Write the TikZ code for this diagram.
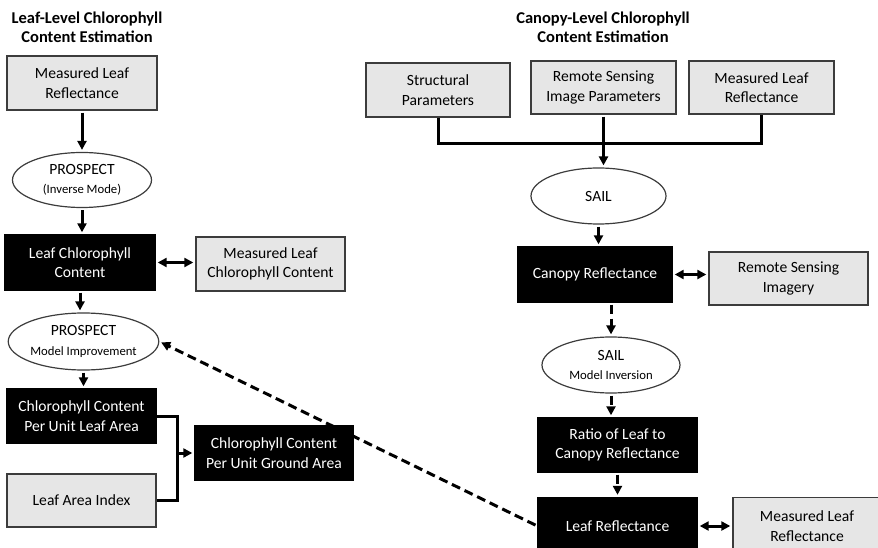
\documentclass[tikz,border=0pt]{standalone}
\usepackage{fontspec}
\setmainfont{Carlito}
\usepackage{tikz}
\definecolor{boxgray}{RGB}{230,230,230}
\definecolor{boxline}{RGB}{60,60,60}
\usetikzlibrary{shapes.geometric,arrows.meta,backgrounds}
\newcommand\subtext[1]{{\fontsize{12.7}{16}\selectfont #1}}

\begin{document}
\begin{tikzpicture}[x=1pt,y=-1pt,
        txt/.style={font=\fontsize{15.6}{19.5}\selectfont, align=center, inner sep=0pt},
        graybox/.style={txt, draw=boxline, fill=boxgray, line width=1.4pt, minimum height=54pt},
        blackbox/.style={txt, draw=black, fill=black, text=white, line width=1.4pt, minimum height=54pt},
        oval/.style={txt, ellipse, draw=boxline, fill=white, line width=1.2pt},
        title/.style={align=center, font=\fontsize{16.5}{19}\selectfont\bfseries},
        link/.style={line width=3pt, draw=black},
        arr/.style={link, -{Triangle[length=9pt,width=9pt]}, shorten >=2pt, shorten <=2pt},
        dbl/.style={link, {Triangle[length=9pt,width=9pt]}-{Triangle[length=9pt,width=9pt]}, shorten >=2pt, shorten <=2pt},
        dasharr/.style={arr, dash pattern=on 9pt off 5pt}]
        \useasboundingbox (0,0) rectangle (878,548);

        % leaf level
        \node[title] (titleL) at (87,27) {Leaf-Level Chlorophyll\\Content Estimation};
        \node[graybox, minimum width=150pt] (mlr) at (82,83) {Measured Leaf\\Reflectance};
        \node[oval, minimum width=139pt, minimum height=55pt] (pros1) at (82,180) {PROSPECT\\\subtext{(Inverse Mode)}};
        \node[blackbox, minimum width=150pt, minimum height=55pt] (lcc) at (80,262.5) {Leaf Chlorophyll\\Content};
        \node[graybox, minimum width=149pt] (mlcc) at (270.5,264) {Measured Leaf\\Chlorophyll Content};
        \node[oval, minimum width=139pt, minimum height=57pt] (pros2) at (83.5,341.5) {PROSPECT\\\subtext{Model Improvement}};
        \node[blackbox, minimum width=149pt] (ccla) at (81.5,416) {Chlorophyll Content\\Per Unit Leaf Area};
        \node[graybox, minimum width=149pt, minimum height=53pt] (lai) at (81.5,500.5) {Leaf Area Index};
        \node[blackbox, minimum width=158pt] (ccga) at (274,453) {Chlorophyll Content\\Per Unit Ground Area};

        % canopy level
        \node[title] (titleR) at (603,27) {Canopy-Level Chlorophyll\\Content Estimation};
        \node[graybox, minimum width=144pt] (struct) at (438,90) {Structural\\Parameters};
        \node[graybox, minimum width=145pt, minimum height=53pt] (rsip) at (603.5,87.5) {Remote Sensing\\Image Parameters};
        \node[graybox, minimum width=145pt, minimum height=53pt] (mlr2) at (761.5,87.5) {Measured Leaf\\Reflectance};
        \node[oval, minimum width=135pt, minimum height=56pt] (sail1) at (598.5,196) {SAIL};
        \node[blackbox, minimum width=154pt, minimum height=55pt] (canr) at (595,274.5) {Canopy Reflectance};
        \node[graybox, minimum width=159pt, minimum height=53pt] (rsi) at (788.5,278.5) {Remote Sensing\\Imagery};
        \node[oval, minimum width=138pt, minimum height=56pt] (sail2) at (611,365) {SAIL\\\subtext{Model Inversion}};
        \node[blackbox, minimum width=159pt] (ratio) at (617.5,445) {Ratio of Leaf to\\Canopy Reflectance};
        \node[blackbox, minimum width=159pt, minimum height=57pt] (lr) at (617.5,526) {Leaf Reflectance};
        \node[graybox, minimum width=148pt, minimum height=57pt] (mlr3) at (807,526) {Measured Leaf\\Reflectance};

        % leaf level links
        \draw[arr] (mlr.south) -- (mlr.south |- pros1.north);
        \draw[arr] (pros1.south) -- (pros1.south |- lcc.north);
        \draw[dbl] (lcc.east) -- (lcc.east -| mlcc.west);
        \draw[dasharr] (lcc.south) -- (lcc.south |- pros2.north);
        \draw[dasharr] (pros2.south) -- (pros2.south |- ccla.north);
        \draw[link] (ccla.east) -- ++(21,0) coordinate (fork) |- (lai.east);
        \draw[arr, shorten <=0pt] (fork |- ccga.west) -- (ccga.west);

        % canopy level links
        \draw[link] (struct.south) -- ++(0,26) -| (mlr2.south);
        \draw[arr] (rsip.south) -- (rsip.south |- sail1.north);
        \draw[arr] (sail1.south) -- (sail1.south |- canr.north);
        \draw[dbl] (canr.east) -- (canr.east -| rsi.west);
        \draw[dasharr] (canr.south -| sail2.north) -- (sail2.north);
        \draw[dasharr] (sail2.south) -- (sail2.south |- ratio.north);
        \draw[dasharr] (ratio.south) -- (ratio.south |- lr.north);
        \draw[dbl] (lr.east) -- (lr.east -| mlr3.west);

        \begin{scope}[on background layer]
            \draw[dasharr] (lr.west) -- (pros2.east);
        \end{scope}
    \end{tikzpicture}
\end{document}
